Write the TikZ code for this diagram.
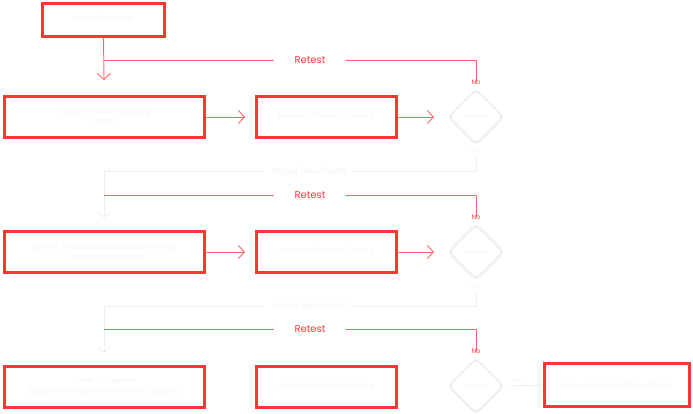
\documentclass[tikz,border=0pt]{standalone}
\usepackage{fontspec}
\setmainfont{Poppins}
\usetikzlibrary{shapes.geometric,arrows.meta}
\definecolor{boxred}{HTML}{FF3535}
\definecolor{linered}{HTML}{FF6565}
\definecolor{txtred}{HTML}{FF3B3B}
\definecolor{faint}{HTML}{F6F6F6}
\definecolor{faintline}{HTML}{EEEEEE}
\tikzset{
  box/.style={draw=boxred, line width=3pt, fill=white, minimum height=41pt, inner sep=2pt,
    font=\fontsize{8}{10}\selectfont, text=faint, align=center},
  dia/.style={diamond, draw=faintline, line width=2pt, rounded corners=5pt, minimum width=56pt,
    minimum height=56pt, inner sep=0pt, font=\fontsize{5}{6}\selectfont, text=faint},
  redline/.style={draw=linered, line width=0.9pt},
  greyline/.style={draw=faintline, line width=0.9pt},
  tip/.style={-{Straight Barb[length=6pt,width=13pt]}},
  lab/.style={fill=white, font=\fontsize{10}{12}\selectfont, inner ysep=1pt},
  nolab/.style={font=\fontsize{6.5}{7}\selectfont, text=txtred, inner sep=1pt},
  yeslab/.style={font=\fontsize{6.5}{7}\selectfont, text=faint, inner sep=1pt},
}
\begin{document}
\begin{tikzpicture}[x=1pt,y=-1pt]
\useasboundingbox (0,0) rectangle (693,413);
% boxes
\node[box, minimum width=122pt, minimum height=33pt] (top) at (103.5,20) {Issue Reported};
\node[box, minimum width=200pt] (l1) at (104.5,117) {Level 1 Troubleshooting\\(Basic)};
\node[box, minimum width=140pt] (m1) at (326.5,117) {Perform Product Testing};
\node[dia] (d1) at (476,117) {Resolved?};
\node[box, minimum width=200pt] (l2) at (104.5,252) {Level 2 Troubleshooting (Advanced)\\(Technical Support)};
\node[box, minimum width=140pt] (m2) at (326.5,252) {Perform Product Testing};
\node[dia] (d2) at (476,252) {Resolved?};
\node[box, minimum width=200pt] (l3) at (104.5,387) {Level 3 Support\\(Expert, Vendor, Manufacturer Support)};
\node[box, minimum width=140pt] (m3) at (326.5,387) {Perform Product Testing};
\node[dia] (d3) at (476,386) {Resolved?};
\node[box, minimum width=145pt, minimum height=43pt] (fin) at (617,385) {Document and Close Ticket};
% coordinates
\coordinate (a1) at (104,80);
\coordinate (c1) at (104,60);
\coordinate (a2) at (104,218);
\coordinate (c2) at (104,195);
\coordinate (g2) at (104,171);
\coordinate (a3) at (104,353);
\coordinate (c3) at (104,329);
\coordinate (g3) at (104,306);
% labels
\node[lab, text=txtred, inner xsep=20pt] (r1) at (310,60) {Retest};
\node[lab, text=txtred, inner xsep=20pt] (r2) at (310,195) {Retest};
\node[lab, text=txtred, inner xsep=20pt] (r3) at (310,329) {Retest};
\node[lab, text=faint, inner xsep=8pt] (i1) at (309,171) {Issue Resolved};
\node[lab, text=faint, inner xsep=8pt] (i2) at (309,306) {Issue Resolved};
\node[nolab] (n1) at (476,82) {No};
\node[nolab] (n2) at (476,217) {No};
\node[nolab] (n3) at (476,351) {No};
\node[yeslab] (y1) at (476,152) {Yes};
\node[yeslab] (y2) at (476,288) {Yes};
\node[yeslab] (y3) at (519,380) {Yes};
% row 1 connectors
\draw[redline, tip] (top.south) -- (a1);
\draw[redline] (c1) -- (r1.west);
\draw[redline] (r1.east) -| ([yshift=-3pt]n1.north);
\draw[redline, tip, shorten >=10pt] (l1.east) -- (m1.west);
\draw[redline, tip, shorten >=13pt] (m1.east) -- (d1.west);
% row 1 -> row 2
\draw[greyline] (y1.south) |- (i1.east);
\draw[greyline] (i1.west) -- (g2);
\draw[greyline, tip] (g2) -- (a2);
\draw[redline] (c2) -- (r2.west);
\draw[redline] (r2.east) -| ([yshift=-3pt]n2.north);
% row 2
\draw[redline, tip, shorten >=10pt] (l2.east) -- (m2.west);
\draw[redline, tip, shorten >=13pt] (m2.east) -- (d2.west);
% row 2 -> row 3
\draw[greyline] (y2.south) |- (i2.east);
\draw[greyline] (i2.west) -- (g3);
\draw[greyline, tip] (g3) -- (a3);
\draw[redline] (c3) -- (r3.west);
\draw[redline] (r3.east) -| ([yshift=-3pt]n3.north);
% row 3
\draw[greyline, shorten <=6pt] (d3.east) -- (fin.west);
\end{tikzpicture}
\end{document}
